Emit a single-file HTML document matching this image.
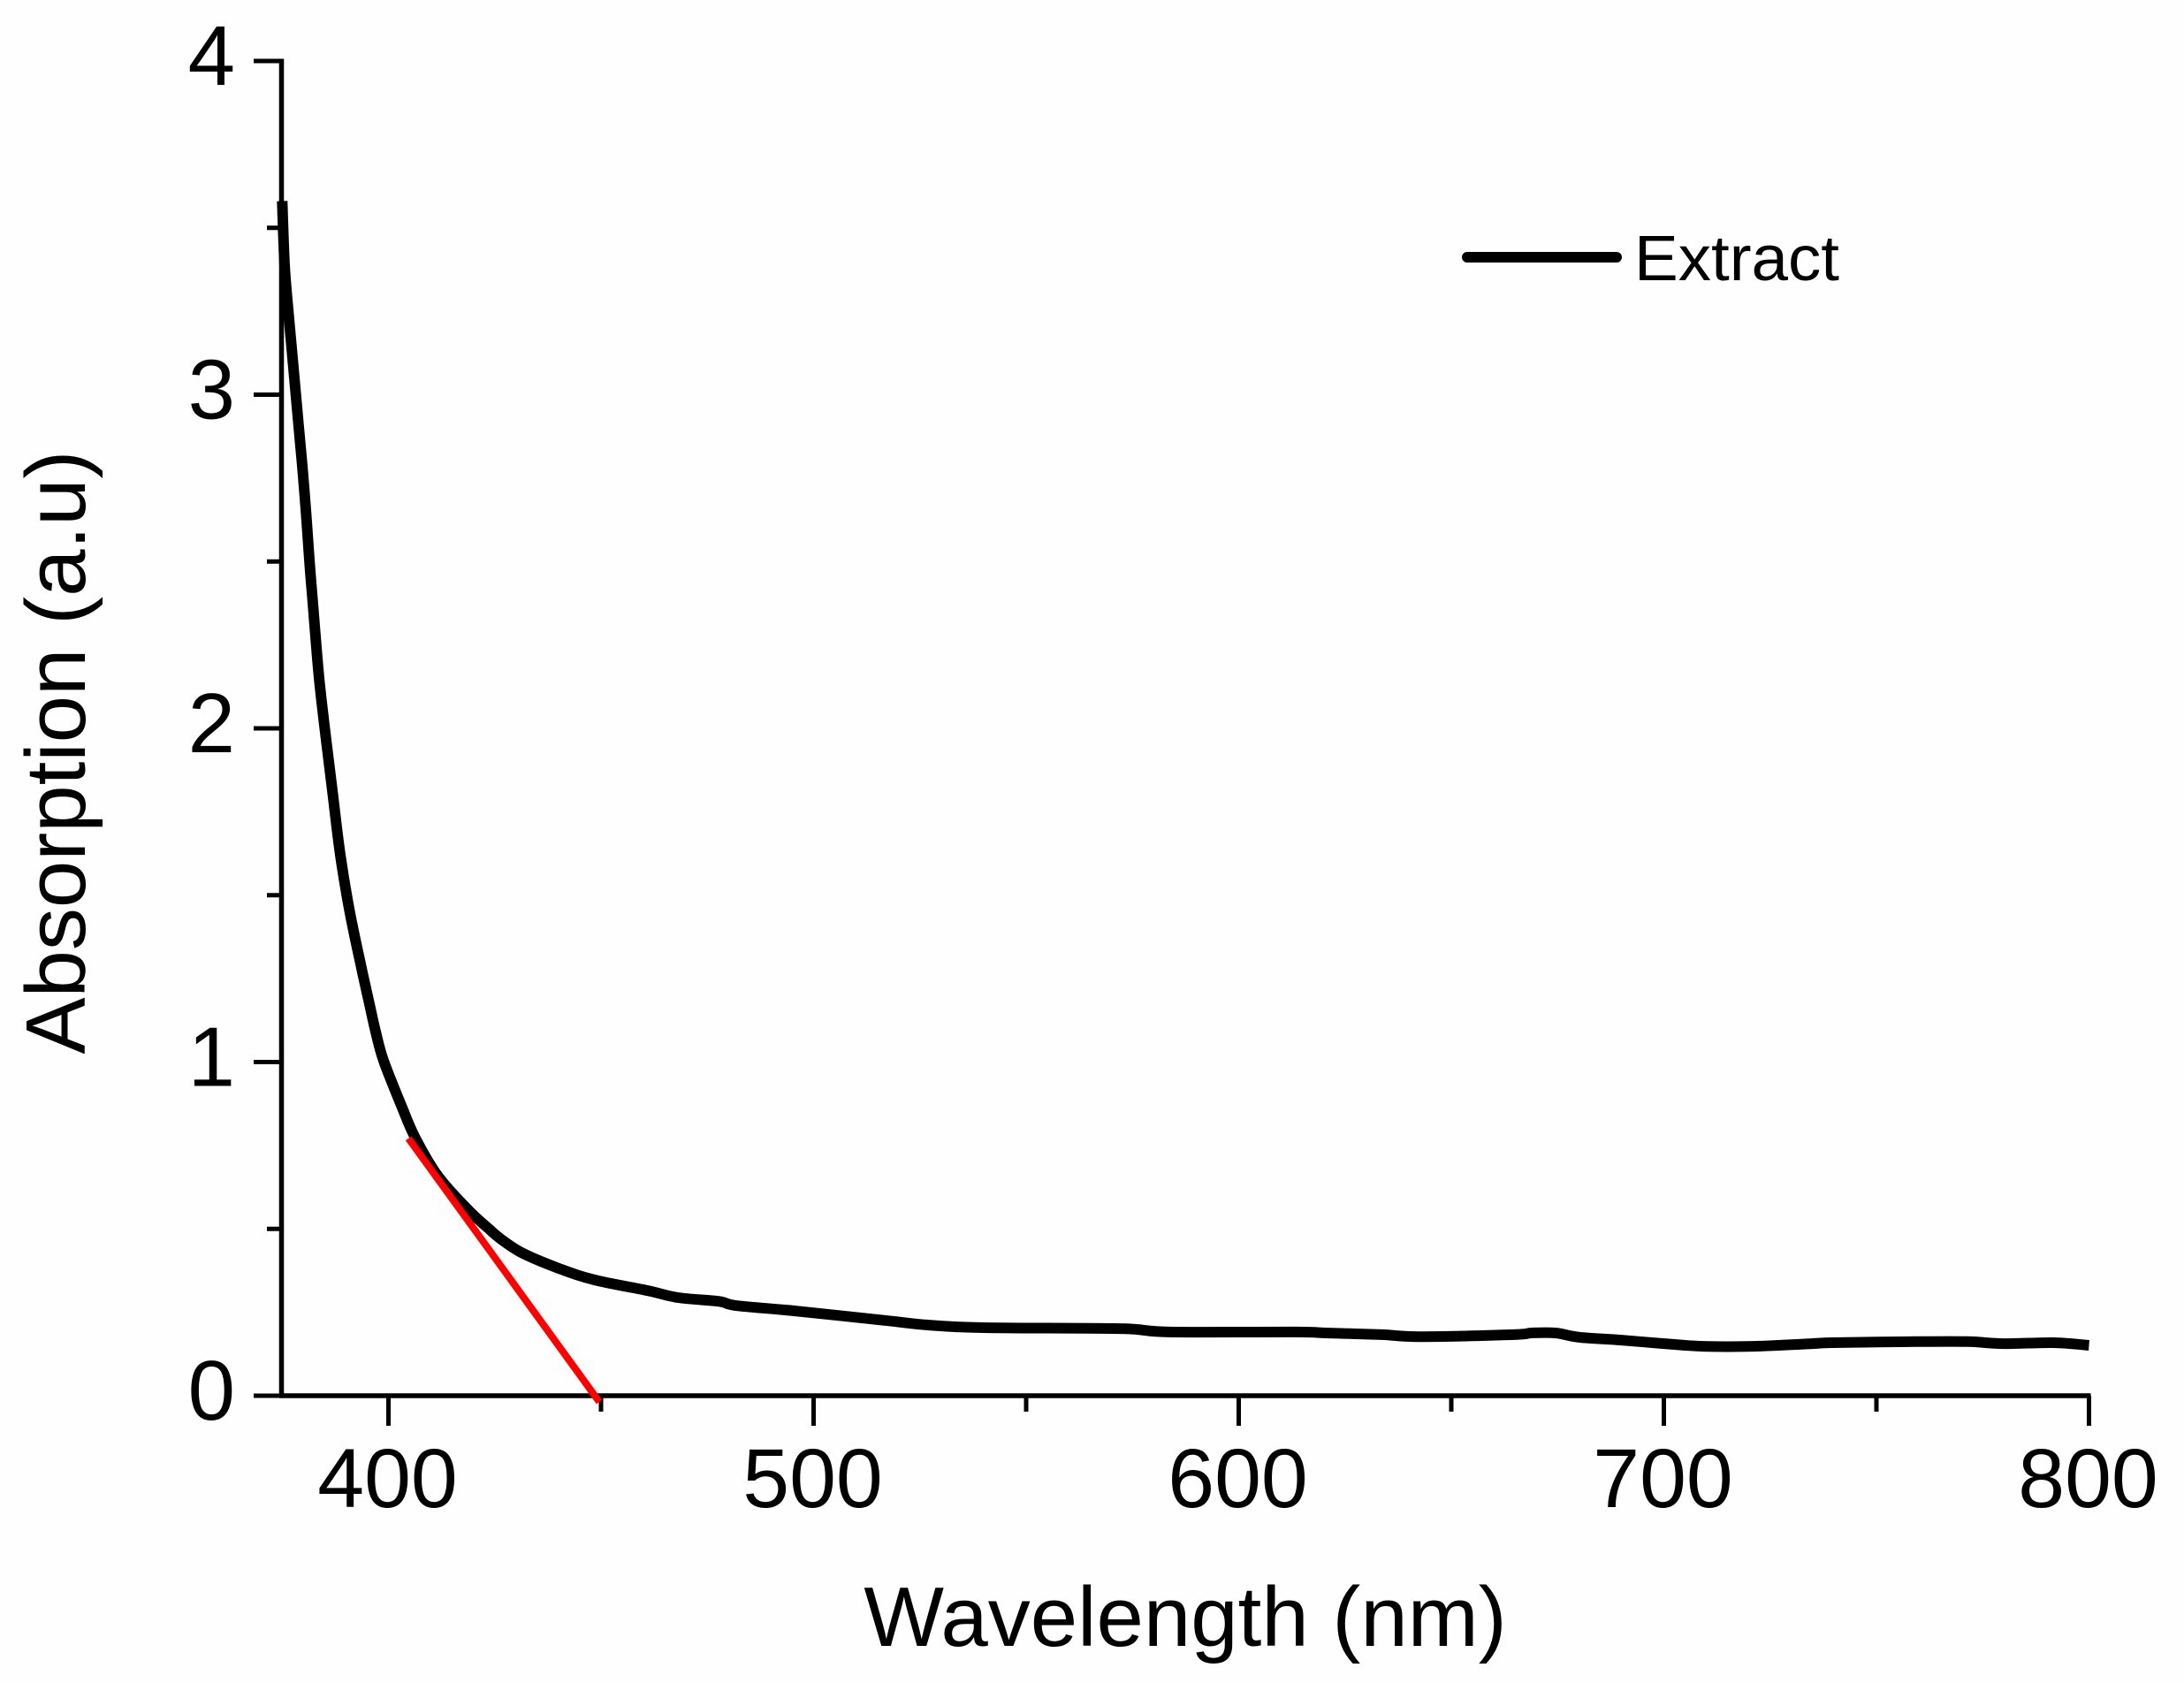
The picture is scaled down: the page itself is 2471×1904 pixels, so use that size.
<!DOCTYPE html>
<html lang="en">
<head>
<meta charset="utf-8">
<title>Absorption spectrum</title>
<style>
  html, body { margin: 0; padding: 0; background: #fefefe; }
  svg { display: block; }
  text { font-family: "Liberation Sans", Arial, sans-serif; fill: #000; }
</style>
</head>
<body>
<svg id="chart" xmlns="http://www.w3.org/2000/svg" width="2471" height="1904" viewBox="0 0 2471 1904">
  <rect x="0" y="0" width="2471" height="1904" fill="#fefefe"/>
  <g id="axes"></g>
  <path id="extract-line" fill="none" stroke="#000" stroke-width="12" stroke-linejoin="round"/>
  <path id="tangent-line" fill="none" stroke="#ff0000" stroke-width="8"/>
  <g>
    <line x1="1660" y1="291" x2="1829" y2="291" stroke="#000" stroke-width="12" stroke-linecap="round"/>
    <text x="1849" y="317" font-size="72" textLength="232" lengthAdjust="spacingAndGlyphs">Extract</text>
  </g>
  <text x="1341" y="1862" font-size="96" text-anchor="middle">Wavelength (nm)</text>
  <text transform="translate(96,851) rotate(-90)" font-size="96" text-anchor="middle">Absorption (a.u)</text>
</svg>
<script>
const wavelengths = [375, 375.57, 376.4, 377.03, 377.96, 378.9, 379.83, 380.67, 381.39, 382.22, 383.69, 385.24, 386.94, 388.67, 390.96, 393.87, 395.4, 396.99, 398.86, 403.2, 406.34, 411.54, 418.6, 423.8, 426.5, 431.3, 440.2, 448.5, 461, 468.1, 477.7, 481.8, 495.7, 516.5, 526.9, 540, 572, 583.7, 613.6, 620.5, 633.6, 642.7, 664.8, 668.9, 674.5, 680.1, 689.7, 700.1, 709.3, 720.9, 734.8, 739.6, 759.2, 771.6, 779.9, 791.6, 800];
const absorbance = [3.58, 3.388, 3.256, 3.168, 3.036, 2.903, 2.771, 2.638, 2.506, 2.374, 2.151, 1.976, 1.799, 1.621, 1.446, 1.269, 1.181, 1.091, 1.004, 0.864, 0.772, 0.66, 0.559, 0.498, 0.469, 0.429, 0.381, 0.347, 0.315, 0.294, 0.283, 0.27, 0.254, 0.226, 0.212, 0.204, 0.201, 0.191, 0.191, 0.188, 0.183, 0.177, 0.183, 0.188, 0.188, 0.175, 0.167, 0.156, 0.148, 0.148, 0.156, 0.159, 0.162, 0.162, 0.156, 0.159, 0.151];
const tangentWavelengths = [404.7, 449.6];
const tangentValues = [0.771, -0.0185];
const xMajorTicks = [400, 500, 600, 700, 800];
const xMinorTicks = [450, 550, 650, 750];
const yMajorTicks = [0, 1, 2, 3, 4];
const yMinorTicks = [0.5, 1.5, 2.5, 3.5];

function xScale(w) { return 439.5 + (w - 400) * 4.81; }
function yScale(v) { return 1579 - v * 377.5; }
function linePath(xs, ys) {
  return xs.map(function (w, i) {
    return (i ? 'L' : 'M') + xScale(w).toFixed(1) + ' ' + yScale(ys[i]).toFixed(1);
  }).join(' ');
}
function smoothPath(xs, ys) {
  const pts = xs.map(function (w, i) { return [xScale(w), yScale(ys[i])]; });
  let d = 'M' + pts[0][0].toFixed(1) + ' ' + pts[0][1].toFixed(1);
  for (let i = 0; i < pts.length - 1; i++) {
    const p0 = pts[Math.max(i - 1, 0)];
    const p1 = pts[i];
    const p2 = pts[i + 1];
    const p3 = pts[Math.min(i + 2, pts.length - 1)];
    const c1x = p1[0] + (p2[0] - p0[0]) / 6;
    const c1y = p1[1] + (p2[1] - p0[1]) / 6;
    const c2x = p2[0] - (p3[0] - p1[0]) / 6;
    const c2y = p2[1] - (p3[1] - p1[1]) / 6;
    d += ' C' + c1x.toFixed(1) + ' ' + c1y.toFixed(1) + ' ' + c2x.toFixed(1) + ' ' + c2y.toFixed(1) + ' ' + p2[0].toFixed(1) + ' ' + p2[1].toFixed(1);
  }
  return d;
}

const svgNS = 'http://www.w3.org/2000/svg';
const axes = document.getElementById('axes');
function addLine(x1, y1, x2, y2, width) {
  const l = document.createElementNS(svgNS, 'line');
  l.setAttribute('x1', x1);
  l.setAttribute('y1', y1);
  l.setAttribute('x2', x2);
  l.setAttribute('y2', y2);
  l.setAttribute('stroke', '#000');
  l.setAttribute('stroke-width', width);
  axes.appendChild(l);
  return l;
}
function addText(x, y, str, anchor, size) {
  const t = document.createElementNS(svgNS, 'text');
  t.setAttribute('x', x);
  t.setAttribute('y', y);
  t.setAttribute('font-size', size);
  t.setAttribute('text-anchor', anchor);
  t.textContent = str;
  axes.appendChild(t);
  return t;
}

const yAxisLine = addLine(318.5, 66.5, 318.5, 1581.5, 5.5);


const xAxisLine = addLine(316, 1579, 2365.5, 1579, 5.5);



xMajorTicks.forEach(function (w) {
  const tick = addLine(xScale(w), 1579, xScale(w), 1613, 5);
  
  
  const label = addText(xScale(w) - 1, 1705, String(w), 'middle', '95');
  
  
});
xMinorTicks.forEach(function (w) {
  const tick = addLine(xScale(w), 1579, xScale(w), 1597, 5);
  
  
});
yMajorTicks.forEach(function (v) {
  const tick = addLine(287, yScale(v), 318, yScale(v), 5);
  
  
  const label = addText(266, yScale(v) + 27, String(v), 'end', '96');
  
  
});
yMinorTicks.forEach(function (v) {
  const tick = addLine(302, yScale(v), 318, yScale(v), 5);
  
  
});

document.getElementById('extract-line').setAttribute('d', smoothPath(wavelengths, absorbance));
document.getElementById('tangent-line').setAttribute('d', linePath(tangentWavelengths, tangentValues));
</script>
</body>
</html>
